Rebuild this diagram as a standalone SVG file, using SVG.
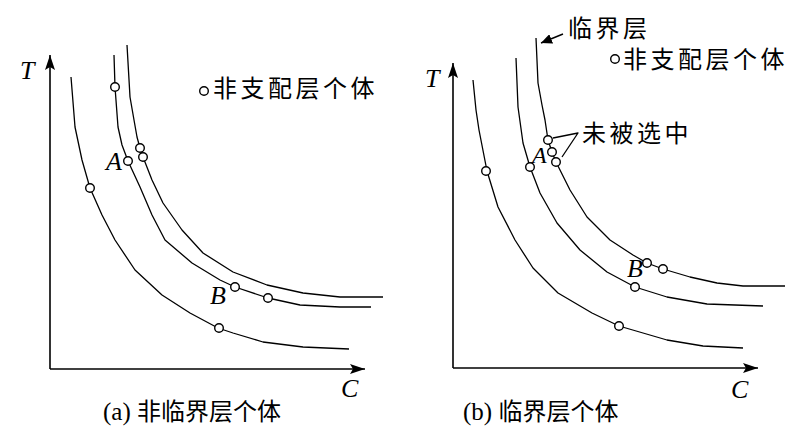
<svg xmlns="http://www.w3.org/2000/svg" width="800" height="443" viewBox="0 0 800 443">
<style>
.ax{fill:none;stroke:#000;stroke-width:1.6}
.cv{fill:none;stroke:#000;stroke-width:1.3;stroke-linejoin:round}
.pt{fill:#fff;stroke:#000;stroke-width:1.4}
.lt{font-family:"Liberation Serif",serif;font-style:italic;font-size:26px;fill:#000}
.cn{font-family:"Noto Sans CJK SC",sans-serif;font-size:24px;letter-spacing:3.5px;fill:#000}
.cap{font-family:"Noto Sans CJK SC",sans-serif;font-size:24px;fill:#000}
.capl{font-family:"Liberation Serif",serif;font-size:25px}
</style>
<defs>
<marker id="ah" markerWidth="18" markerHeight="12" refX="15" refY="6" orient="auto" markerUnits="userSpaceOnUse">
<path d="M0,1 L15,6 L0,11 L3,6 Z" fill="#000"/>
</marker>
<marker id="sh" markerWidth="12" markerHeight="10" refX="11" refY="5" orient="auto" markerUnits="userSpaceOnUse">
<path d="M0,0 L11,5 L0,10 Z" fill="#000"/>
</marker>
</defs>
<rect width="800" height="443" fill="#fff"/>

<g id="panel-a">
<g id="axes-a">
<path class="ax" d="M50,369 L50,55" marker-end="url(#ah)"/>
<path class="ax" d="M50,369 L365,369" marker-end="url(#ah)"/>
<text class="lt" x="20" y="79">T</text>
<text class="lt" x="341" y="397">C</text>
</g>
<g id="curves-a">
<polyline class="cv" points="71,77 75,127 82,160 90,188 102,215 115,240 135,270 162,295 190,313 218,328 233,333 263,342 303,347 349,349"/>
<polyline class="cv" points="114,55 115,87 118,127 122,145 128,161 140,187 152,215 165,240 192,263 220,280 235,287 268,298 300,305 340,307 371,307"/>
<polyline class="cv" points="127,45 130,97 134,120 137,137 140,148 143,157 152,180 163,203 182,230 203,253 233,272 267,285 303,293 340,297 383,297"/>
</g>
<g id="points-a">
<circle class="pt" cx="115" cy="87" r="4.3"/>
<circle class="pt" cx="140" cy="148" r="4.3"/>
<circle class="pt" cx="143" cy="157" r="4.3"/>
<circle class="pt" cx="128" cy="161" r="4.3"/>
<circle class="pt" cx="90" cy="188" r="4.3"/>
<circle class="pt" cx="235" cy="287" r="4.3"/>
<circle class="pt" cx="268" cy="298" r="4.3"/>
<circle class="pt" cx="219" cy="328" r="4.3"/>
</g>
<text class="lt" x="106" y="170">A</text>
<text class="lt" x="210" y="304">B</text>
<g id="legend-a">
<circle class="pt" cx="204" cy="91" r="4.3"/>
<text class="cn" x="213" y="97">非支配层个体</text>
</g>
<text class="cap" x="103" y="420"><tspan class="capl">(a) </tspan>非临界层个体</text>
</g>

<g id="panel-b">
<g id="axes-b">
<path class="ax" d="M453,368 L453,63" marker-end="url(#ah)"/>
<path class="ax" d="M453,368 L758,368" marker-end="url(#ah)"/>
<text class="lt" x="425" y="87">T</text>
<text class="lt" x="731" y="398">C</text>
</g>
<g id="curves-b">
<polyline class="cv" points="473,80 476,110 479,130 487,171 498,207 515,240 533,268 558,293 592,313 619,326 667,340 703,346 743,348"/>
<polyline class="cv" points="516,58 518,107 523,143 530,167 540,193 557,223 580,250 607,272 635,287 667,297 707,304 763,306"/>
<polyline class="cv" points="536,38 538,83 542,105 545,120 548,140 552,152 556,162 570,190 587,217 610,240 633,255 647,263 663,269 690,277 717,283 743,286 785,286"/>
</g>
<g id="points-b">
<circle class="pt" cx="548" cy="140" r="4.3"/>
<circle class="pt" cx="552" cy="152" r="4.3"/>
<circle class="pt" cx="556" cy="162" r="4.3"/>
<circle class="pt" cx="530" cy="167" r="4.3"/>
<circle class="pt" cx="486" cy="171" r="4.3"/>
<circle class="pt" cx="647" cy="263" r="4.3"/>
<circle class="pt" cx="663" cy="269" r="4.3"/>
<circle class="pt" cx="635" cy="287" r="4.3"/>
<circle class="pt" cx="619" cy="326" r="4.3"/>
</g>
<text class="lt" x="532" y="163" style="font-size:24px">A</text>
<text class="lt" x="627" y="277">B</text>
<g id="connectors-b">
<path class="ax" style="stroke-width:1.4" d="M563,34 L541,43" marker-end="url(#sh)"/>
<polyline class="cv" points="553,138 578,133 562,157"/>
</g>
<text class="cn" x="568" y="37">临界层</text>
<text class="cn" x="582" y="142">未被选中</text>
<g id="legend-b">
<circle class="pt" cx="615" cy="59" r="4.3"/>
<text class="cn" x="623" y="68">非支配层个体</text>
</g>
<text class="cap" x="463" y="420"><tspan class="capl">(b) </tspan>临界层个体</text>
</g>
</svg>
